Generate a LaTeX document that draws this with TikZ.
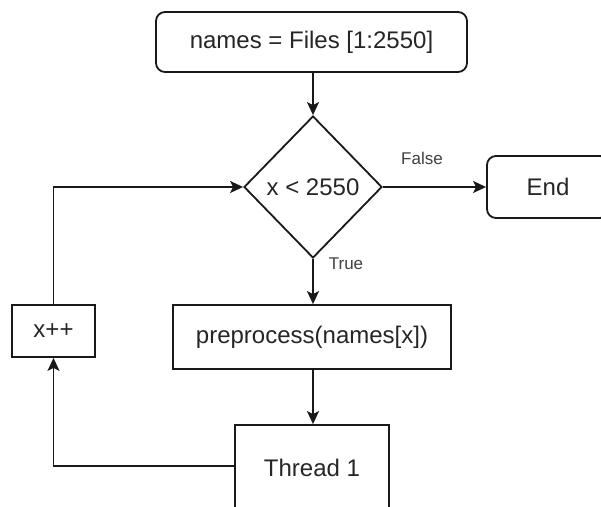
\documentclass[tikz,border=0pt]{standalone}
\usepackage{fontspec}
\setmainfont{Liberation Sans}
\usetikzlibrary{shapes.geometric,arrows.meta}

\tikzset{
  box/.style={draw=black!90, line width=1.8pt, fill=white, inner sep=0pt,
              font=\fontsize{24}{28}\selectfont, text=black!85},
  roundbox/.style={box, rounded corners=9pt},
  decision/.style={box, shape=diamond, aspect=1},
  lbl/.style={font=\fontsize{17}{20}\selectfont, text=black!75, inner sep=0pt},
  arr/.style={draw=black!90, line width=1.8pt,
              -{Stealth[length=13pt,width=12pt,inset=3pt]}},
}

\begin{document}
\begin{tikzpicture}[x=1pt,y=-1pt]
  \clip (0,0) rectangle (601,506);
  \useasboundingbox (0,0) rectangle (601,506);

  % process steps
  \node[roundbox, minimum width=311pt, minimum height=60pt] (init) at (311.5,42) {names = Files [1:2550]};
  \node[decision, minimum width=138pt, minimum height=142pt] (cond) at (313,187) {x < 2550};
  \node[roundbox, minimum width=122pt, minimum height=62pt] (stop) at (548,187) {End};
  \node[box, minimum width=278pt, minimum height=64pt] (prep) at (312,337) {preprocess(names[x])};
  \node[box, minimum width=154pt, minimum height=92pt] (thr) at (312,471) {\raisebox{6pt}{Thread 1}};
  \node[box, minimum width=83pt, minimum height=52pt] (inc) at (53.5,331) {x++};

  % branch labels
  \node[lbl] (lfalse) at (422,158) {False};
  \node[lbl] (ltrue) at (346,264) {True};

  % connectors
  \draw[arr] (init.south -| cond.north) -- (cond.north);
  \draw[arr] (cond.east) -- (cond.east -| stop.west);
  \draw[arr] (cond.south) -- (cond.south |- prep.north);
  \draw[arr] (prep.south -| cond.south) -- (cond.south |- thr.north);
  \draw[arr] ([yshift=5pt]thr.west) -| (inc.south);
  \draw[arr] (inc.north) |- (cond.west);
\end{tikzpicture}
\end{document}
